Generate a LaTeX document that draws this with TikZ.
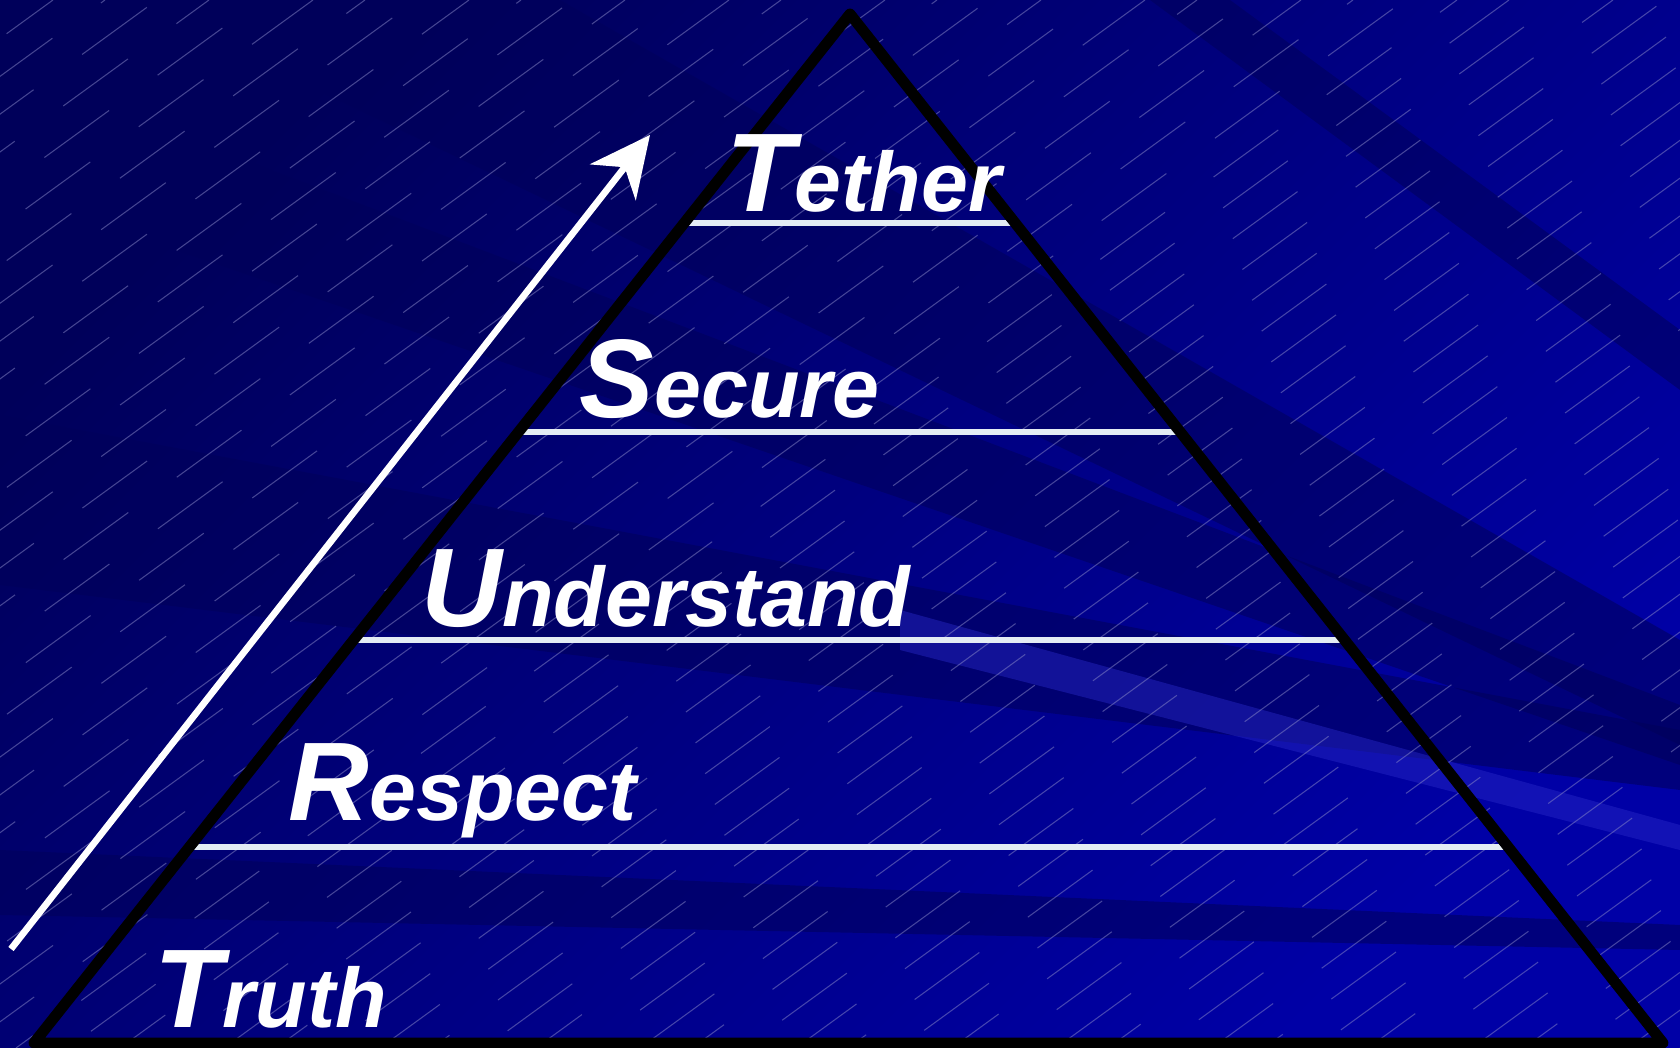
\documentclass[tikz,border=0pt]{standalone}
\usepackage{fontspec}
\setmainfont{Liberation Sans}
\usepackage{xcolor}
\definecolor{navydark}{HTML}{00005A}
\definecolor{navybright}{HTML}{0000A6}
\definecolor{streaklight}{HTML}{2A2AC8}
\definecolor{hatchgray}{HTML}{8A8AC8}
\definecolor{rungwhite}{HTML}{E4ECF4}
\usepackage{tikz}
\usetikzlibrary{arrows.meta,calc}

\newcommand{\bigini}[1]{{\fontsize{31.8}{34}\selectfont #1}}

\tikzset{
  levelword/.style={anchor=base west, inner sep=0pt, text=white,
    font=\fontsize{24}{26}\selectfont\bfseries\itshape},
  rung/.style={draw=rungwhite, line width=1.7pt},
  pyramid/.style={draw=black, line width=3.1pt, line join=round},
  darkstreak/.style={fill=navydark, opacity=0.55},
  hatch/.style={draw=hatchgray, line width=0.3pt, opacity=0.5,
    dash pattern=on 8mm off 6mm},
}

\begin{document}
\begin{tikzpicture}[x=0.1mm, y=-0.1mm]
  \useasboundingbox (0,0) rectangle (1680,1048);
  \shade[top color=navydark, bottom color=navybright, shading angle=45]
    (0,0) rectangle (1680,1048);
  \begin{scope}
    \clip (0,0) rectangle (1680,1048);
    \fill[darkstreak] (130,0) -- (560,0) -- (1680,640) -- (1680,745) -- cycle;
    \fill[darkstreak] (0,67) -- (1680,705) -- (1680,765) -- (0,190) -- cycle;
    \fill[darkstreak] (0,415) -- (1680,730) -- (1680,790) -- (0,585) -- cycle;
    \fill[darkstreak] (0,850) -- (1680,925) -- (1680,950) -- (0,915) -- cycle;
    \fill[darkstreak] (1150,0) -- (1230,0) -- (1680,330) -- (1680,390) -- cycle;
    \fill[streaklight, opacity=0.45] (900,610) -- (1680,825) -- (1680,850) -- (900,650) -- cycle;
    \foreach \h in {-1440,-1388,...,1680}{
      \pgfmathsetlengthmacro{\ph}{mod(abs(\h)*3.7,140)*0.1mm}
      \draw[hatch, dash phase=\ph] (\h,1048) -- ++(1441,-1048);
    }
  \end{scope}

  \coordinate (apex) at (850,14);
  \coordinate (baseL) at (34,1043);
  \coordinate (baseR) at (1663,1043);
  \foreach \t in {0.203,0.406,0.608,0.81}
    \draw[rung] ($(apex)!\t!(baseL)$) -- ($(apex)!\t!(baseR)$);
  \draw[pyramid] (apex) -- (baseR) -- (baseL) -- cycle;

  \coordinate (climbfoot) at (11,949);
  \coordinate (climbtip) at (650,135);
  \draw[white, line width=1.9pt, -{Stealth[length=6mm,width=5.8mm,inset=1.9mm]}]
    (climbfoot) -- (climbtip);

  \node[levelword] (tether) at (726,212) {\bigini{T}ether};
  \node[levelword] (secure) at (579,418) {\bigini{S}ecure};
  \node[levelword] (understand) at (421,627) {\bigini{U}nderstand};
  \node[levelword] (respect) at (288,821) {\bigini{R}espect};
  \node[levelword] (truth) at (154,1028) {\bigini{T}ruth};
\end{tikzpicture}
\end{document}
